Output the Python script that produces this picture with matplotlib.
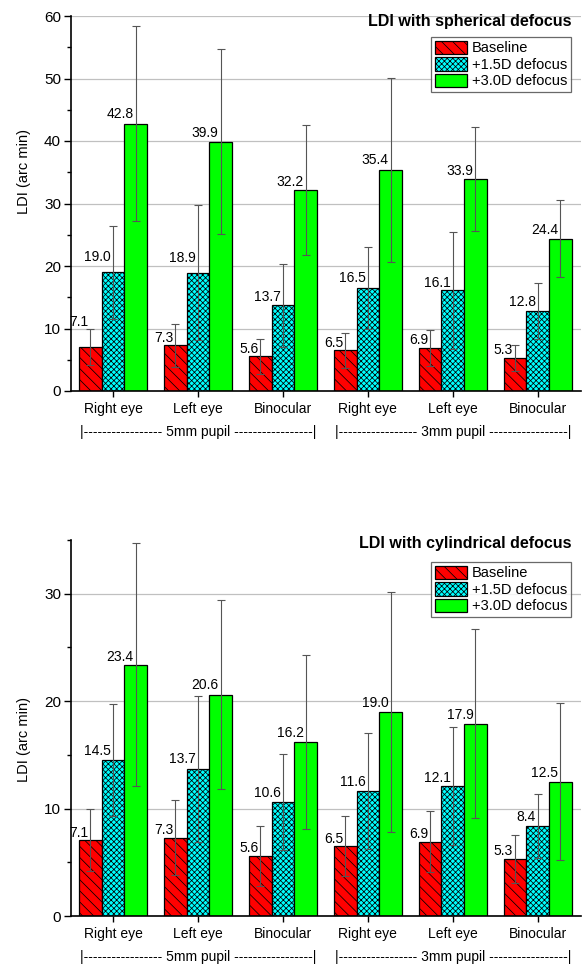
import matplotlib
matplotlib.use('Agg')
import matplotlib.pyplot as plt
import matplotlib.transforms as mtransforms
from matplotlib.patches import Patch
import numpy as np

plt.rcParams['font.family'] = ['Liberation Sans', 'DejaVu Sans']
plt.rcParams['hatch.linewidth'] = 0.55

# ---------------- data ----------------
categories = ['Right eye', 'Left eye', 'Binocular', 'Right eye', 'Left eye', 'Binocular']
series_names = ['Baseline', '+1.5D defocus', '+3.0D defocus']
pupil_groups = ['5mm pupil', '3mm pupil']

sph_baseline = [7.1, 7.3, 5.6, 6.5, 6.9, 5.3]
sph_d15 = [19.0, 18.9, 13.7, 16.5, 16.1, 12.8]
sph_d30 = [42.8, 39.9, 32.2, 35.4, 33.9, 24.4]
sph_baseline_err = [2.9, 3.5, 2.8, 2.8, 2.9, 2.1]
sph_d15_err = [7.4, 10.8, 6.6, 6.6, 9.4, 4.5]
sph_d30_err = [15.6, 14.8, 10.4, 14.7, 8.3, 6.1]

cyl_baseline = [7.1, 7.3, 5.6, 6.5, 6.9, 5.3]
cyl_d15 = [14.5, 13.7, 10.6, 11.6, 12.1, 8.4]
cyl_d30 = [23.4, 20.6, 16.2, 19.0, 17.9, 12.5]
cyl_baseline_err = [2.9, 3.5, 2.8, 2.8, 2.85, 2.2]
cyl_d15_err = [5.2, 6.8, 4.5, 5.4, 5.5, 3.0]
cyl_d30_err = [11.3, 8.8, 8.1, 11.2, 8.8, 7.3]

# ---------------- styles ----------------
colors = ['#ff0000', '#00ffff', '#00ff00']
hatches = ['\\\\\\', 'xxxxxx', '']
err_color = '#555555'
# vertical gap (px) between bar top and value label (manually placed in source)
sph_gap_px = [[21, 3, 3, 3, 4, 4], [11, 11, 4, 6, 3, 5], [5, 5, 4, 6, 4, 5]]
cyl_gap_px = [[3, 4, 4, 3, 4, 4], [5, 6, 5, 5, 4, 5], [4, 6, 5, 5, 5, 5]]

W, H = 583, 967
fig = plt.figure(figsize=(W / 100, H / 100), dpi=100)


def axes_px(l, t, r, b):
    return fig.add_axes([l / W, 1 - b / H, (r - l) / W, (b - t) / H])


def draw(ax, vals, errs, gaps, ymax, title, title_y, ylab_y, leg_anchor):
    x = np.arange(len(categories))
    w = 0.267
    offs = [-w, 0, w]
    for i in range(3):
        xs = x + offs[i]
        ax.bar(xs, vals[i], width=w, color=colors[i], edgecolor='black',
               linewidth=0.9, hatch=hatches[i], zorder=2)
        ax.errorbar(xs, vals[i], yerr=errs[i], fmt='none', ecolor=err_color,
                    elinewidth=0.8, capsize=2.9, capthick=0.8, zorder=3)
        for xi, v, g in zip(xs, vals[i], gaps[i]):
            ax.annotate(f'{v:.1f}', xy=(xi, v), xytext=(-1.5, g * 0.72),
                        textcoords='offset points', ha='right', va='baseline',
                        fontsize=10, zorder=4)
    ax.set_xlim(-0.5, 5.51)
    ax.set_ylim(0, ymax)
    ax.set_xticks(x)
    ax.set_xticklabels(categories, fontsize=10)
    ax.set_yticks(np.arange(0, ymax + 0.1, 10))
    ax.set_yticks(np.arange(5, ymax + 0.1, 10), minor=True)
    ax.tick_params(axis='y', which='major', direction='out', length=5, width=1,
                   labelsize=11, pad=2)
    ax.tick_params(axis='y', which='minor', direction='out', length=3, width=1)
    ax.tick_params(axis='x', which='major', direction='out', length=4.5, width=1,
                   pad=3.5)
    ax.set_axisbelow(True)
    ax.yaxis.grid(True, which='major', color='#c0c0c0', linewidth=0.9)
    for s in ['top', 'right']:
        ax.spines[s].set_visible(False)
    for s in ['left', 'bottom']:
        ax.spines[s].set_linewidth(1.2)
    ax.set_ylabel('LDI (arc min)', fontsize=10.5)
    ax.yaxis.set_label_coords(-0.078, ylab_y)
    trans = mtransforms.blended_transform_factory(ax.transData, ax.transAxes)
    for gx, name in zip([1, 4], pupil_groups):
        ax.text(gx, -0.11, '|' + '-' * 17 + ' ' + name + ' ' + '-' * 17 + '|',
                transform=trans, ha='center', va='center', fontsize=10)
    ax.text(0.982, title_y, title, transform=ax.transAxes, ha='right', va='center',
            fontsize=11.5, fontweight='bold')
    handles = [Patch(facecolor=colors[i], edgecolor='black', hatch=hatches[i],
                     linewidth=0.9, label=series_names[i]) for i in range(3)]
    leg = fig.legend(handles=handles, loc='upper right', bbox_to_anchor=leg_anchor,
                     fontsize=10.5, frameon=True, fancybox=False, borderpad=0.25,
                     handlelength=2.2, handleheight=1.05, handletextpad=0.35,
                     labelspacing=0.12, borderaxespad=0)
    leg.get_frame().set_edgecolor('#444444')
    leg.get_frame().set_linewidth(0.9)


ax1 = axes_px(70.7, 16, 581, 391)
draw(ax1, [sph_baseline, sph_d15, sph_d30],
     [sph_baseline_err, sph_d15_err, sph_d30_err], sph_gap_px, 60,
     'LDI with spherical defocus', 0.986, 0.584, (571 / W, 1 - 37 / H))

ax2 = axes_px(70.7, 540, 581, 916)
draw(ax2, [cyl_baseline, cyl_d15, cyl_d30],
     [cyl_baseline_err, cyl_d15_err, cyl_d30_err], cyl_gap_px, 35,
     'LDI with cylindrical defocus', 0.99, 0.47, (571 / W, 1 - 562 / H))

fig.savefig('out.png', dpi=100)
